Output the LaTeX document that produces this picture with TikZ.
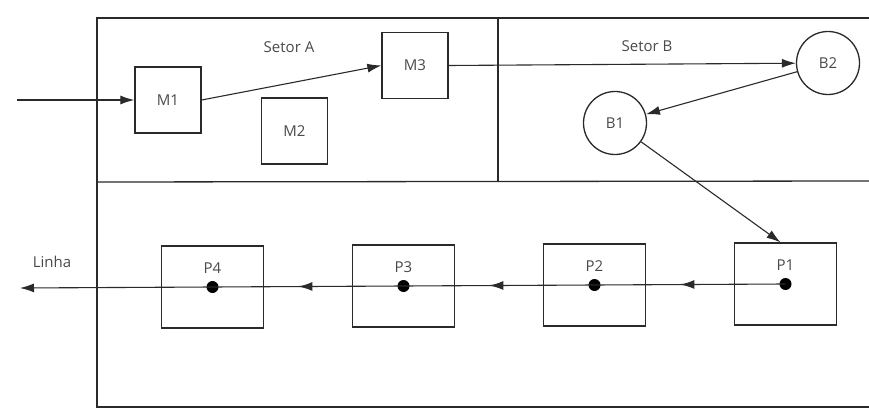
\documentclass[tikz,border=0pt]{standalone}
\usepackage{fontspec}
\setmainfont{Open Sans}
\usetikzlibrary{arrows.meta,decorations.markings,calc}
\definecolor{linecol}{HTML}{2A2A2A}
\definecolor{textcol}{HTML}{4A4A4A}
\begin{document}
\begin{tikzpicture}[x=1pt,y=-1pt,
  ln/.style={draw=linecol, line width=1.1pt},
  arr/.style={ln, -{Latex[length=14pt,width=9pt]}},
  txt/.style={text=textcol, font=\fontsize{15}{17}\selectfont, inner sep=0pt},
  mbox/.style={ln, line width=1.3pt, rectangle, minimum width=66pt, minimum height=66pt, inner sep=0pt, txt},
  pbox/.style={ln, line width=1.3pt, rectangle, minimum width=102pt, minimum height=82pt, inner sep=0pt},
  bcirc/.style={ln, line width=1.3pt, circle, minimum size=63pt, inner sep=0pt, txt},
  pdot/.style={circle, fill=black, inner sep=0pt, minimum size=12pt},
  midarrow/.style={ln, postaction={decorate}, decoration={markings, mark=at position 0.55 with {\arrow{Latex[length=14pt,width=9pt]}}}}
]
\useasboundingbox[fill=white] (0,0) rectangle (869,414);
% frame
\draw[ln, line width=1.3pt] (869,18) -- (97,18) -- (97,407) -- (869,407);
\draw[ln, line width=1.3pt] (97,182) -- (869,181);
\draw[ln, line width=1.3pt] (498,18) -- (498,182);
% sector labels
\node[txt] (sa) at (289,47) {Setor A};
\node[txt] (sb) at (647,46) {Setor B};
% machines
\node[mbox] (M1) at (168,100) {M1};
\node[mbox] (M2) at (294.5,131) {M2};
\node[mbox] (M3) at (415,65.5) {M3};
\node[bcirc] (B2) at (828,63) {B2};
\node[bcirc] (B1) at (615,123) {B1};
% production boxes
\node[pbox] (P1) at (785.5,284) {};
\node[pbox] (P2) at (594.5,285) {};
\node[pbox] (P3) at (403.5,286) {};
\node[pbox] (P4) at (212.5,287) {};
\foreach \p in {P1,P2,P3,P4}{
  \node[pdot] (\p d) at (\p.center) {};
  \node[txt] (\p t) at ($(\p.center)+(0,-19)$) {\p};
}
% connectors
\coordinate (in) at (17,100);
\coordinate (out) at (20,288);
\node[txt, anchor=center] (linha) at (52,262) {Linha};
\draw[arr] (in) -- (M1.west);
\draw[arr] (M1.east) -- (M3.west);
\draw[arr] (M3.east) -- (B2);
\draw[arr] (B2) -- (B1);
\draw[arr] (B1) -- ([xshift=-5pt]P1.north);
\draw[midarrow] (P1d.center) -- (P2d.center);
\draw[midarrow] (P2d.center) -- (P3d.center);
\draw[midarrow] (P3d.center) -- (P4d.center);
\draw[arr] (P4d.center) -- (out);
\end{tikzpicture}
\end{document}
